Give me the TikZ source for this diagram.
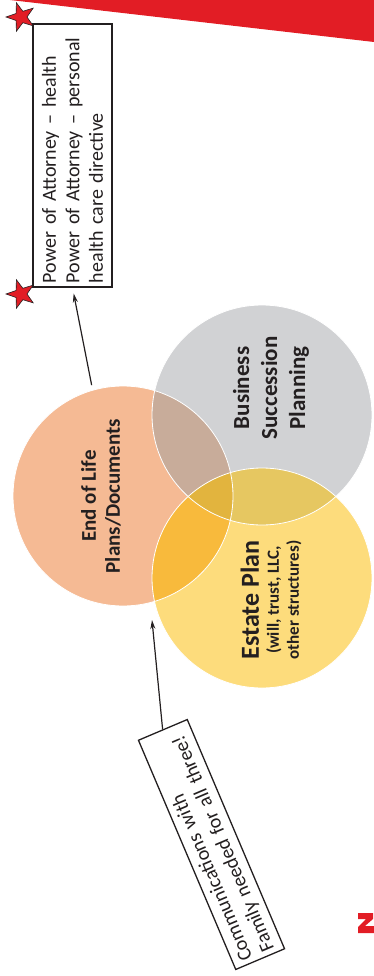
\documentclass[tikz,border=0pt]{standalone}
\usepackage{fontspec}
\setmainfont{Carlito}
\usetikzlibrary{arrows.meta,shapes.geometric}

\definecolor{bannerred}{HTML}{E21D25}
\definecolor{lifeorange}{HTML}{F5BA94}
\definecolor{bizgray}{HTML}{D1D2D4}
\definecolor{estateyellow}{HTML}{FDDC7C}
\definecolor{lifebiz}{HTML}{C8AC9A}
\definecolor{lifeestate}{HTML}{F8BA3C}
\definecolor{bizestate}{HTML}{E6C761}
\definecolor{allthree}{HTML}{E2B43E}
\definecolor{inkdark}{HTML}{231F20}

\tikzset{
  venn/.style={circle, minimum size=220pt, inner sep=0pt},
  venntext/.style={rotate=90, align=center, text=inkdark, font=\bfseries},
  notebox/.style={draw=inkdark, line width=1.3pt, align=left, inner sep=4pt,
    text=inkdark, font=\fontsize{20}{23.5}\selectfont},
  pointer/.style={draw=inkdark, line width=1.2pt, -{Stealth[length=9pt,width=5pt]}},
  redstar/.style={star, star points=5, star point ratio=2.5, minimum size=30pt,
    inner sep=0pt, rotate=90, fill=bannerred, draw=inkdark, line width=0.6pt}
}

\begin{document}
\begin{tikzpicture}[x=1pt,y=-1pt]
  \useasboundingbox (0,0) rectangle (374,976);

  % banner and logo corner
  \fill[bannerred] (10,0) -- (374,0) -- (374,42) -- cycle;
  \fill[bannerred] (358,913) -- (373,913) -- (373,919) -- (365,926)
    -- (374,926) -- (374,933) -- (358,933) -- (358,927) -- (366,919)
    -- (358,919) -- cycle;

  % the three circles
  \node[venn, fill=lifeorange] (eol) at (123,496) {};
  \node[venn, fill=bizgray] (bsp) at (262,415) {};
  \node[venn, fill=estateyellow] (est) at (262,578) {};

  % overlaps
  \begin{scope}
    \clip (eol.center) circle (110pt);
    \fill[lifebiz] (bsp.center) circle (110pt);
    \fill[lifeestate] (est.center) circle (110pt);
  \end{scope}
  \begin{scope}
    \clip (bsp.center) circle (110pt);
    \fill[bizestate] (est.center) circle (110pt);
    \clip (eol.center) circle (110pt);
    \fill[allthree] (est.center) circle (110pt);
  \end{scope}
  \foreach \c in {eol,bsp,est}
    \draw[white, line width=0.8pt] (\c.center) circle (110pt);

  % circle labels
  \node[venntext, font=\bfseries\fontsize{21}{24}\selectfont] (eoltext) at (101,496)
    {End of Life\\Plans/Documents};
  \node[venntext, font=\bfseries\fontsize{23}{28}\selectfont] (bsptext) at (271,388)
    {Business\\Succession\\Planning};
  \node[venntext, font=\bfseries\fontsize{17}{20}\selectfont] (esttext) at (271,600)
    {{\fontsize{26}{27}\selectfont Estate Plan}\\(will, trust, LLC,\\other structures)};

  % notes
  \node[notebox, rotate=90, text width=255pt, minimum height=79pt] (poa) at (72.5,155.5)
    {Power of Attorney -- health\\Power of Attorney -- personal\\health care directive};
  \node[redstar] (startop) at (21,17) {};
  \node[redstar] (starbot) at (21,294) {};

  \node[notebox, rotate=113, text width=241pt, minimum height=53pt] (fam) at (211.5,844.5)
    {Communications with\\Family needed for all three!};
  \coordinate (famtip) at (152,620);

  % arrows
  \draw[pointer, shorten <=5pt, shorten >=6pt] (eol.106) -- (poa.west);
  \draw[pointer] (fam.east) -- (famtip);
\end{tikzpicture}
\end{document}
